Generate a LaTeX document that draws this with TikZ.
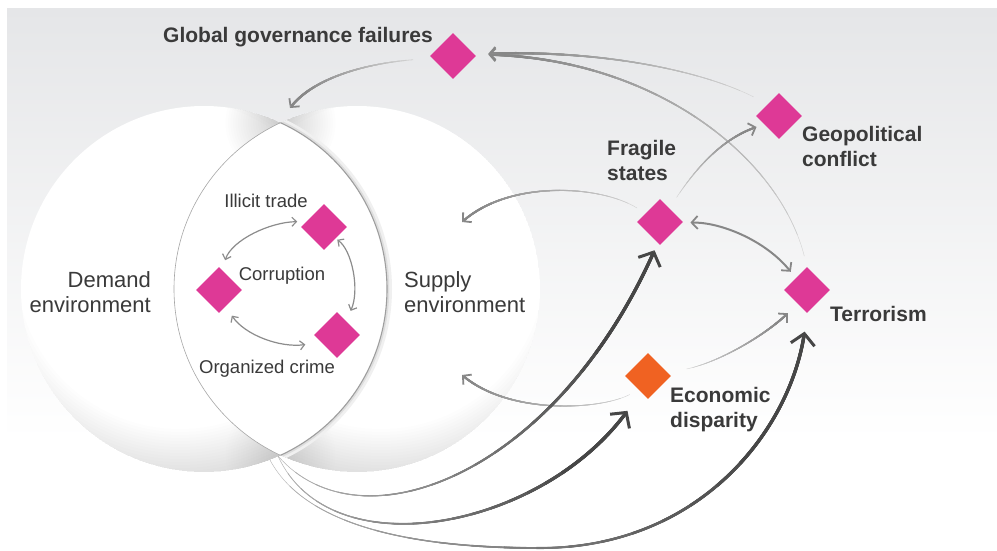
\documentclass[tikz,border=0pt]{standalone}
\usepackage{fontspec}
\setmainfont{Liberation Sans}
\usetikzlibrary{shapes.geometric,arrows.meta}
\definecolor{pinkD}{RGB}{222,57,150}
\definecolor{orangeD}{RGB}{240,98,34}
\definecolor{bgTop}{RGB}{229,230,232}
\definecolor{txt}{RGB}{58,58,58}
\definecolor{tA}{RGB}{210,210,210}
\definecolor{tB}{RGB}{135,135,135}
\definecolor{dA}{RGB}{180,180,180}
\definecolor{dB}{RGB}{70,70,70}
\definecolor{inC}{RGB}{140,140,140}
\tikzset{
  thintip/.tip={Straight Barb[length=6pt,width=13pt,line width=1.8pt,color=tB]},
  thicktip/.tip={Straight Barb[length=11pt,width=24pt,line width=3pt,color=dB]},
  ibarb/.tip={Straight Barb[length=4.5pt,width=9pt,line width=1.2pt]},
}
% #1 shorten start, #2 shorten end, #3 start colour, #4 end colour,
% #5 start width, #6 end width, #7 taper length, #8 tip, #9 path
\newcommand\taper[9]{%
  \draw[line width=#5pt, draw=#3, shorten <=#1pt, shorten >=#2pt, -{#8}] #9;
  \pgfmathsetmacro\tse{#2+1.8}%
  \foreach \k in {1,...,16}{%
    \pgfmathsetmacro\tw{#5+(#6-#5)*\k/16}%
    \pgfmathsetmacro\toff{#7*\k/16}%
    \pgfmathtruncatemacro\tp{100*\k/16}%
    \draw[line width=\tw pt, draw=#4!\tp!#3, dash pattern=on 0pt off \toff pt on 3000pt, shorten <=#1pt, shorten >=\tse pt] #9;
  }%
}
\newcommand\cuspshadow{%
  \foreach \r in {2.5,5,...,55} {%
    \fill[black,opacity=0.009] (cTop) circle[radius=\r pt];
    \fill[black,opacity=0.005] (cBot) circle[radius=\r pt];}%
}
% darkening outside circles of growing radius round #1
\newcommand\rimshade[1]{%
  \foreach \r in {164,167,...,230} {%
    \fill[black,opacity=0.008,even odd rule] (#1) circle[radius=\r pt] (-60,-60) rectangle (660,660);}%
}
\begin{document}
\begin{tikzpicture}[x=1pt,y=-1pt,
  dia/.style={shape=diamond, minimum width=46pt, minimum height=46pt, inner sep=0pt, draw=none, fill=pinkD},
  lblB/.style={font=\fontsize{21}{25}\selectfont\bfseries, text=txt, inner sep=0pt, align=left},
  lblR/.style={font=\fontsize{22}{25}\selectfont, text=txt, inner sep=0pt},
  lblS/.style={font=\fontsize{18.5}{22}\selectfont, text=txt, inner sep=0pt},
  inarrow/.style={draw=inC, line width=1.2pt, ibarb-ibarb},
  dbl/.style={draw=tB, line width=2pt, thintip-thintip},
]
\useasboundingbox (0,0) rectangle (997,550);
% background
\fill[white] (0,0) rectangle (997,550);
\shade[top color=bgTop, bottom color=white] (7,8) rectangle (997,440);
% circles
\coordinate (cL) at (204,289);
\coordinate (cR) at (357,289);
\coordinate (sL) at (180,265);
\coordinate (sR) at (381,265);
\coordinate (cTop) at (280.5,123);
\coordinate (cBot) at (280.5,455);
\begin{scope}
  \clip (cR) circle[radius=183pt];
  \fill[white] (cR) circle[radius=183pt];
  \rimshade{sR}
\end{scope}
\begin{scope}
  \clip (cL) circle[radius=183pt];
  \fill[white] (cL) circle[radius=183pt];
  \rimshade{sL}
  \cuspshadow
\end{scope}
\begin{scope}
  \clip (cR) circle[radius=183pt];
  \cuspshadow
  \draw[black!6, line width=10pt] (cL) circle[radius=183pt];
  \draw[black!13, line width=4.5pt] (cL) circle[radius=183pt];
\end{scope}
\begin{scope}
  \clip (cL) circle[radius=183pt];
  \fill[white] (cR) circle[radius=183pt];
  \draw[black!35, line width=0.6pt] (cR) circle[radius=183pt];
\end{scope}
\begin{scope}
  \clip (cR) circle[radius=183pt];
  \draw[black!38, line width=1.1pt] (cL) circle[radius=183pt];
\end{scope}
% free ends
\coordinate (lt) at (290,108);
\coordinate (supA) at (462,222);
\coordinate (supB) at (462,375);
\coordinate (lb) at (278,456);
\coordinate (lb2) at (270,460);
% diamonds
\node[dia] (gg) at (453,56) {};
\node[dia] (it) at (324,227) {};
\node[dia] (co) at (219,290) {};
\node[dia] (oc) at (337,335) {};
\node[dia] (fs) at (660,222) {};
\node[dia] (gc) at (779,116) {};
\node[dia] (te) at (807,290) {};
\node[dia, fill=orangeD] (ed) at (648,376) {};
% labels
\node[lblB, anchor=base east] (ggL) at (433,42) {Global governance failures};
\node[lblS, anchor=base] (itL) at (266,207) {Illicit trade};
\node[lblS, anchor=base] (coL) at (282,280) {Corruption};
\node[lblS, anchor=base] (ocL) at (267,373) {Organized crime};
\node[lblR, anchor=east, align=right] (dmL) at (151,292.6) {Demand\\environment};
\node[lblR, anchor=west, align=left] (spL) at (404,292.6) {Supply\\environment};
\node[lblB, anchor=west] (fsL) at (607,160) {Fragile\\states};
\node[lblB, anchor=west] (gcL) at (802,146) {Geopolitical\\conflict};
\node[lblB, anchor=base west] (teL) at (830,321) {Terrorism};
\node[lblB, anchor=west] (edL) at (670,409.2) {Economic\\disparity};
% inner arrows
\draw[inarrow, shorten <=10pt, shorten >=9pt] (co.82) .. controls (232,240) and (270,222) .. (it.163);
\draw[inarrow, shorten <=2pt, shorten >=11pt] (it.-45) .. controls (352,250) and (360,290) .. (oc.57);
\draw[inarrow, shorten <=11pt, shorten >=16pt] (co.-68) .. controls (245,335) and (280,348) .. (oc.205);
% thin tapered arrows
\taper{19}{0}{tA}{tB}{0.8}{2.2}{110}{thintip}{(gg.186) .. controls (360,64) and (312,80) .. (lt)}
\taper{16}{14}{tA}{tB}{0.4}{2.4}{240}{thintip}{(gc.133) .. controls (700,70) and (600,50) .. (gg.5)}
\taper{11}{14}{tA}{tB}{0.4}{2.4}{360}{thintip}{(te.90) .. controls (780,160) and (660,60) .. (gg.5)}
\taper{13}{8}{tA}{tB}{0.4}{1.9}{90}{thintip}{(fs.56) .. controls (695,170) and (720,140) .. (gc.209)}
\taper{10}{0}{tA}{tB}{0.4}{2.0}{160}{thintip}{(fs.149) .. controls (600,185) and (510,180) .. (supA)}
\taper{10}{0}{tA}{tB}{0.4}{2.0}{160}{thintip}{(ed.236) .. controls (600,410) and (510,415) .. (supB)}
\taper{19}{13.6}{tA}{tB}{0.4}{1.9}{100}{thintip}{(ed.9) .. controls (720,362) and (765,335) .. (te.236)}
\draw[dbl, shorten <=8pt, shorten >=8pt] (fs.-2) .. controls (720,222) and (765,240) .. (te.133);
% thick tapered arrows
\taper{0}{8}{dA}{dB}{0.5}{3.3}{380}{thicktip}{(lb) .. controls (360,550) and (554,476) .. (fs.264)}
\taper{0}{23}{dA}{dB}{0.5}{3.3}{320}{thicktip}{(lb) .. controls (330,570) and (540,530) .. (ed.247)}
\taper{0}{19}{dA}{dB}{0.4}{3.3}{520}{thicktip}{(lb2) .. controls (310,535) and (440,548) .. (540,548) .. controls (700,548) and (790,430) .. (te.271)}
\end{tikzpicture}
\end{document}
